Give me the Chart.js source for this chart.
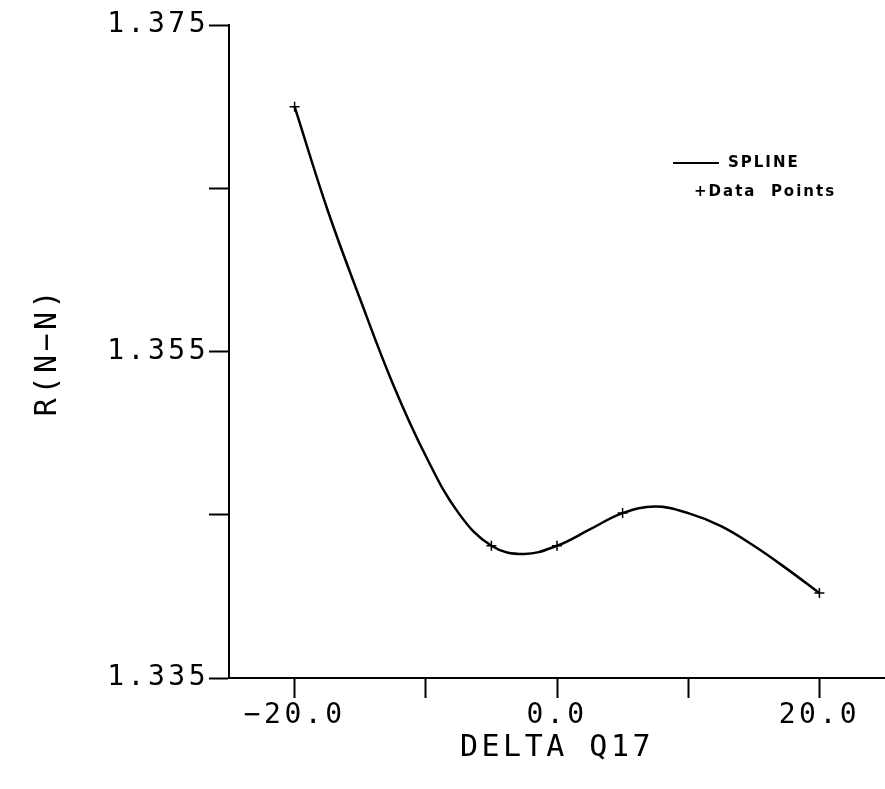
<!DOCTYPE html>
<html>
<head>
<meta charset="utf-8">
<script src="https://cdn.jsdelivr.net/npm/chart.js@4"></script>
<style>
  body { margin: 0; background: #fff; }
  #wrap { width: 885px; height: 789px; }
</style>
</head>
<body>
<div id="wrap"><canvas id="splineChart" width="885" height="789"></canvas></div>
<script>
// values
const pointX = [-20, -5, 0, 5, 20];
const pointY = [1.3700, 1.3431, 1.3431, 1.3451, 1.3402];

const splineX = [-20, -17.5, -15, -12.5, -10, -7.5, -5, -2.5, 0, 2.5, 5, 7.5, 10, 12.5, 15, 17.5, 20];
const splineY = [1.3700, 1.3637, 1.3582, 1.3530, 1.3486, 1.3451, 1.3431, 1.3426, 1.3431, 1.3441, 1.3451, 1.3455, 1.3451, 1.3443, 1.3431, 1.3417, 1.3402];

const xTicks = [-20, -10, 0, 10, 20];
const xLabelled = [-20, 0, 20];
const yTicks = [1.335, 1.345, 1.355, 1.365, 1.375];
const yLabelled = [1.335, 1.355, 1.375];

const tickFont = { family: '"DejaVu Sans Mono"', size: 28 };
const titleFont = { family: '"DejaVu Sans Mono"', size: 30 };

// the plotter font is wide, so space the letters out
const spacingPlugin = {
    id: 'letterSpacing',
    beforeLayout(chart) { chart.ctx.letterSpacing = '3.5px'; },
    beforeDraw(chart) { chart.ctx.letterSpacing = '3.5px'; }
};

// legend drawn inside the plot, top right
const legendPlugin = {
    id: 'plotLegend',
    afterDatasetsDraw(chart) {
        const ctx = chart.ctx;
        ctx.save();
        ctx.strokeStyle = '#000';
        ctx.lineWidth = 2;
        ctx.beginPath();
        ctx.moveTo(673, 163);
        ctx.lineTo(719, 163);
        ctx.stroke();
        ctx.fillStyle = '#000';
        ctx.font = 'bold 15px "DejaVu Sans"';
        ctx.letterSpacing = '2px';
        ctx.textBaseline = 'middle';
        ctx.fillText('SPLINE', 728, 163);
        ctx.fillText('+Data  Points', 694, 192);
        ctx.restore();
    }
};

const ctx = document.getElementById('splineChart').getContext('2d');
new Chart(ctx, {
    type: 'scatter',
    data: {
        datasets: [{
            label: 'SPLINE',
            data: splineX.map((x, i) => ({ x: x, y: splineY[i] })),
            showLine: true,
            borderColor: '#000',
            borderWidth: 2.5,
            pointRadius: 0,
            tension: 0.4,
            fill: false
        }, {
            label: 'Data Points',
            data: pointX.map((x, i) => ({ x: x, y: pointY[i] })),
            showLine: false,
            pointStyle: 'cross',
            pointRadius: 5,
            borderColor: '#000',
            backgroundColor: '#000',
            borderWidth: 1.5
        }]
    },
    options: {
        responsive: false,
        animation: false,
        layout: { autoPadding: false, padding: { top: 25, right: 0, left: 0, bottom: 0 } },
        plugins: {
            legend: { display: false },
            tooltip: { enabled: false }
        },
        scales: {
            x: {
                type: 'linear',
                min: -25,
                max: 25,
                afterBuildTicks: axis => { axis.ticks = xTicks.map(v => ({ value: v })); },
                afterFit: axis => {
                    axis.height = 111;
                    axis.paddingLeft = 0;
                    axis.paddingRight = 0;
                },
                ticks: {
                    color: '#000',
                    font: tickFont,
                    padding: 1,
                    maxRotation: 0,
                    callback: v => xLabelled.includes(v) ? (v < 0 ? '\u2212' : '') + Math.abs(v).toFixed(1) : ''
                },
                grid: {
                    drawOnChartArea: false,
                    drawTicks: true,
                    tickLength: 20,
                    tickWidth: 2,
                    tickColor: '#000'
                },
                border: { color: '#000', width: 2 },
                title: {
                    display: true,
                    text: 'DELTA Q17',
                    color: '#000',
                    font: titleFont,
                    padding: { top: 0, bottom: 23 }
                }
            },
            y: {
                type: 'linear',
                min: 1.335,
                max: 1.375,
                afterBuildTicks: axis => { axis.ticks = yTicks.map(v => ({ value: v })); },
                afterFit: axis => { axis.width = 229; },
                ticks: {
                    color: '#000',
                    font: tickFont,
                    padding: 0,
                    callback: v => yLabelled.some(t => Math.abs(t - v) < 1e-6) ? v.toFixed(3) : ''
                },
                grid: {
                    drawOnChartArea: false,
                    drawTicks: true,
                    tickLength: 20,
                    tickWidth: 2,
                    tickColor: '#000'
                },
                border: { color: '#000', width: 2 },
                title: {
                    display: true,
                    text: 'R(N\u2212N)',
                    color: '#000',
                    font: titleFont,
                    padding: { top: 30, bottom: 0 }
                }
            }
        }
    },
    plugins: [spacingPlugin, legendPlugin]
});
</script>
</body>
</html>
